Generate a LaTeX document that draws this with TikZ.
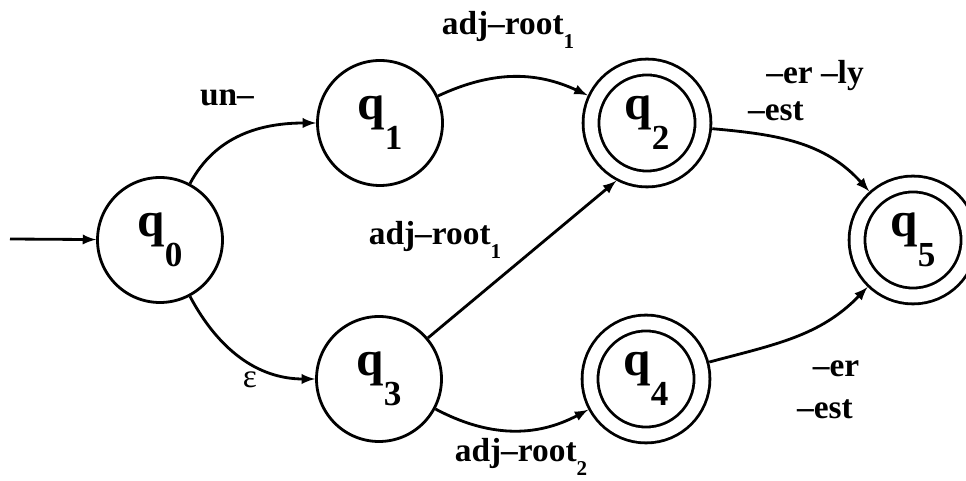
\documentclass[tikz,border=0pt]{standalone}
\usepackage{fontspec}
\setmainfont{Liberation Serif}
\usetikzlibrary{arrows}
\newcommand{\qst}[1]{{\fontsize{28}{28}\selectfont q}\raisebox{-0.6cm}{\fontsize{20}{20}\selectfont #1}}
\newcommand{\lsub}[1]{\raisebox{-0.28cm}{\fontsize{12}{12}\selectfont #1}}

\begin{document}
\begin{tikzpicture}[>=latex,inner sep=0pt,line width=1.6pt,
  state/.style={circle,draw,minimum size=2.5cm,font=\bfseries},
  accept/.style={circle,draw,double,double distance=0.26cm,minimum size=2.24cm,outer sep=0.19cm,font=\bfseries},
  lbl/.style={font=\fontsize{19}{19}\selectfont\bfseries}]
\useasboundingbox (0,0) rectangle (19.32,9.62);
\coordinate (start) at (0.2,4.84);
\node[state] (q0) at (3.2,4.82) {\qst{0}};
\node[state] (q1) at (7.6,7.16) {\qst{1}};
\node[accept] (q2) at (12.94,7.16) {\qst{2}};
\node[state] (q3) at (7.58,2.04) {\qst{3}};
\node[accept] (q4) at (12.92,2.04) {\qst{4}};
\node[accept] (q5) at (18.26,4.82) {\qst{5}};
%
\node[lbl] (un) at (4.54,7.66) {un\textendash};
\node[lbl] (eps) at (5.0,2.02) {\textmd{ε}};
\node[lbl] (r1top) at (10.16,9.02) {adj\textendash root\lsub{1}};
\node[lbl] (r1mid) at (8.7,4.82) {adj\textendash root\lsub{1}};
\node[lbl] (r2) at (10.42,0.48) {adj\textendash root\lsub{2}};
%%
\node[lbl] (erly) at (16.3,8.10) {\textendash er \textendash ly};
\node[lbl] (est1) at (15.52,7.40) {\textendash est};
\node[lbl] (er2) at (16.72,2.24) {\textendash er};
\node[lbl] (est2) at (16.5,1.44) {\textendash est};
%%
\draw[->] (start) -- (q0);
\draw[->] (q0) to[out=62,in=180] (q1);
\draw[->] (q0) to[out=-62,in=180] (q3);
\draw[->] (q1) to[out=25,in=155] (q2);
\draw[->] (q3.40) -- (q2.-118);
\draw[->] (q3) to[out=-28,in=208] (q4);
\draw[->] (q2) to[out=-5,in=132] (q5);
\draw[->] (q4) to[out=15,in=226] (q5);
\end{tikzpicture}
\end{document}
